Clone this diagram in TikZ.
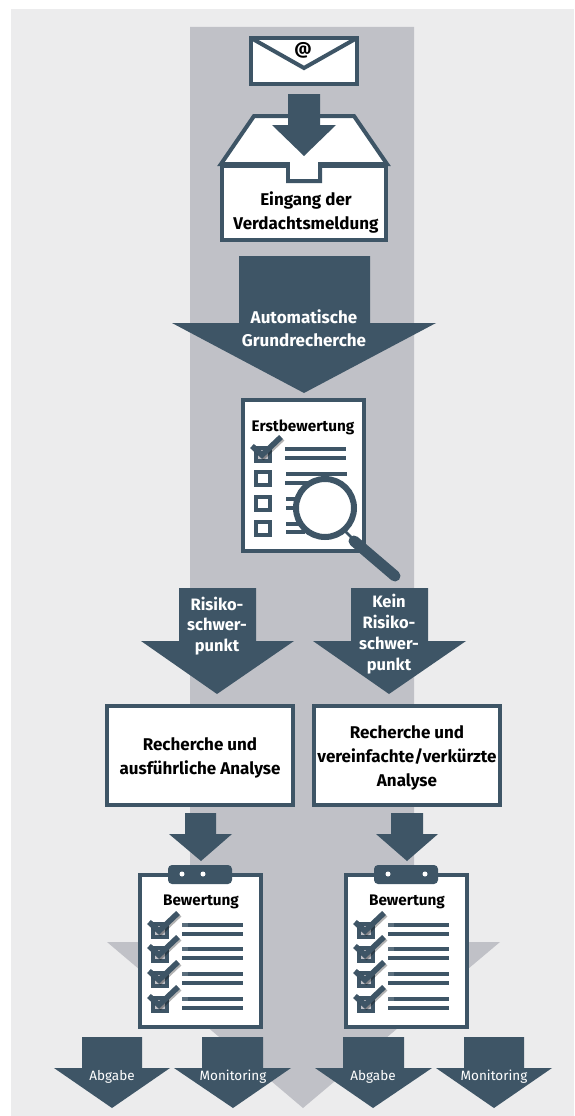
\documentclass[tikz,border=0pt]{standalone}
\usepackage{fontspec}
\setmainfont{Fira Sans}
\definecolor{slate}{HTML}{3E5566}
\definecolor{bandgrey}{HTML}{C0C1C7}
\definecolor{backgrey}{HTML}{ECECED}

\begin{document}
\begin{tikzpicture}[x=1pt, y=-1pt]

\tikzset{
  arrowfill/.style={fill=slate},
  outline/.style={draw=slate, line width=4pt, fill=white},
  listline/.style={draw=slate, line width=4pt},
  analysistext/.style={inner sep=0pt, align=center, font=\fontsize{17}{24}\selectfont\bfseries},
  title/.style={inner sep=0pt, font=\fontsize{15.3}{18}\selectfont\bfseries},
  arrowtext/.style={inner sep=0pt, align=center, text=white, font=\fontsize{16.5}{20.8}\selectfont\bfseries},
  smalltext/.style={inner sep=0pt, text=white, font=\fontsize{13.5}{16}\selectfont},
  tickbox/.pic={
    \draw[slate, line width=4pt, fill=white] (2,2) rectangle (16,15);
  },
  checkmark/.pic={
    \fill[bandgrey] (4,4) rectangle (14,13);
    \draw[black, opacity=0.3, line width=5.5pt] (-0.5,1.5) -- (9.5,10.5) -- (28.5,-7.5);
    \draw[slate, line width=5.5pt] (-2,0) -- (8,9) -- (27,-9);
  },
  checkrow/.pic={
    \pic {tickbox};
    \pic {checkmark};
    \draw[listline] (31,3) -- (92,3);
    \draw[listline] (31,12) -- (92,12);
    \draw[white, opacity=0.15, line width=4pt] (31,3) -- (37,3);
  }
}

% --- Hintergrund ---
\useasboundingbox (0,0) rectangle (574,1116);
\fill[backgrey] (11,9) rectangle (574,1116);
\fill[bandgrey] (190,27) -- (414,27) -- (414,942) -- (500,942) -- (303,1108) -- (107,942) -- (190,942) -- cycle;

% --- Umschlag ---
\draw[outline] (251,38) rectangle (357,84);
\draw[draw=slate, line width=4pt] (251,38) -- (304,68) -- (357,38);
\node[inner sep=0pt, font=\fontsize{17}{18}\selectfont\bfseries] (at) at (303,50) {@};

% --- Eingangskorb ---
\draw[outline] (222,166) rectangle (386,240);
\draw[outline, line join=miter] (221,164) -- (254,116) -- (354,116) -- (387,164) -- (320,164) -- (320,181) -- (288,181) -- (288,164) -- cycle;
\fill[white] (290,160) rectangle (318,179);
\draw[draw=slate, line width=4pt] (222,166) -- (288,166) -- (288,181) -- (320,181) -- (320,166) -- (386,166);
\fill[arrowfill] (288,94) -- (320,94) -- (320,125) -- (336,125) -- (304,156) -- (272,125) -- (288,125) -- cycle;
\node[analysistext] (eingang) at (306,212) {Eingang der\\Verdachtsmeldung};

% --- Grundrecherche ---
\fill[arrowfill] (239,256) -- (370,256) -- (370,323) -- (436,323) -- (304,393) -- (172,323) -- (239,323) -- cycle;
\node[arrowtext, font=\fontsize{17}{22.5}\selectfont\bfseries] (grund) at (304,328) {Automatische\\Grundrecherche};

% --- Erstbewertung ---
\draw[outline] (243,400) rectangle (364,551);
\node[title] (erst) at (303,427) {Erstbewertung};
\pic at (254,446) {tickbox};
\pic at (254,446) {checkmark};
\pic at (254,470) {tickbox};
\pic at (254,495) {tickbox};
\pic at (254,520) {tickbox};
\draw[listline] (285,449) -- (346,449);
\draw[listline] (285,458) -- (346,458);
\draw[listline] (286,474) -- (347,474);
\draw[listline] (285,483) -- (320,483);
\draw[listline] (286,499) -- (305,499);
\draw[listline] (286,508) -- (305,508);
\draw[listline] (286,524) -- (305,524);
\draw[listline] (286,532) -- (305,532);

% --- Lupe ---
\draw[draw=slate, line width=2.5pt] (345,531) -- (356,542);
\draw[draw=slate, line width=11pt, line cap=round] (354,541) -- (395,576);
\draw[draw=slate, line width=6pt, fill=white] (325,508) circle (29);

% --- Verzweigung ---
\fill[arrowfill] (179,588) -- (256,588) -- (256,641) -- (294,641) -- (217,694) -- (141,641) -- (179,641) -- cycle;
\fill[arrowfill] (351,588) -- (428,588) -- (428,641) -- (466,641) -- (389,694) -- (313,641) -- (351,641) -- cycle;
\node[arrowtext] (risiko) at (217,626) {Risiko-\\schwer-\\punkt};
\node[arrowtext] (kein) at (389,634) {Kein\\Risiko-\\schwer-\\punkt};

% --- Recherche ---
\draw[outline] (107,706) rectangle (293,805);
\draw[outline] (314,706) rectangle (500,805);
\node[analysistext] (ausf) at (200,758) {Recherche und\\ausführliche Analyse};
\node[analysistext] (verein) at (407,758) {Recherche und\\vereinfachte/verkürzte\\Analyse};

\fill[arrowfill] (185,813) -- (216,813) -- (216,834) -- (232,834) -- (201,861) -- (169,834) -- (185,834) -- cycle;
\fill[arrowfill] (391,813) -- (423,813) -- (423,834) -- (438,834) -- (407,861) -- (376,834) -- (391,834) -- cycle;

% --- Klemmbrett links ---
\draw[outline] (140,875) rectangle (261,1027);
\fill[arrowfill, rounded corners=4pt] (168,865) rectangle (232,884);
\fill[white] (182,874) circle (2.5);
\fill[white] (203,874) circle (2.5);
\node[title] (bew1) at (201,902) {Bewertung};
\pic at (151,922) {checkrow};
\pic at (151,946) {checkrow};
\pic at (151,971) {checkrow};
\pic at (151,996) {checkrow};

% --- Klemmbrett rechts ---
\draw[outline] (346,875) rectangle (467,1027);
\fill[arrowfill, rounded corners=4pt] (374,865) rectangle (438,884);
\fill[white] (388,874) circle (2.5);
\fill[white] (425,874) circle (2.5);
\node[title] (bew2) at (407,902) {Bewertung};
\pic at (357,922) {checkrow};
\pic at (357,946) {checkrow};
\pic at (357,971) {checkrow};
\pic at (357,996) {checkrow};

% --- Abgabe / Monitoring ---
\fill[arrowfill] (82,1037) -- (142,1037) -- (142,1068) -- (170,1068) -- (112,1108) -- (54,1068) -- (82,1068) -- cycle;
\fill[arrowfill] (202,1037) -- (263,1037) -- (263,1068) -- (291,1068) -- (233,1108) -- (174,1068) -- (202,1068) -- cycle;
\fill[arrowfill] (343,1037) -- (404,1037) -- (404,1068) -- (432,1068) -- (373,1108) -- (315,1068) -- (343,1068) -- cycle;
\fill[arrowfill] (464,1037) -- (524,1037) -- (524,1068) -- (552,1068) -- (494,1108) -- (436,1068) -- (464,1068) -- cycle;
\node[smalltext] (abg1) at (112,1077) {Abgabe};
\node[smalltext] (mon1) at (233,1077) {Monitoring};
\node[smalltext] (abg2) at (373,1077) {Abgabe};
\node[smalltext] (mon2) at (494,1077) {Monitoring};

\end{tikzpicture}
\end{document}
